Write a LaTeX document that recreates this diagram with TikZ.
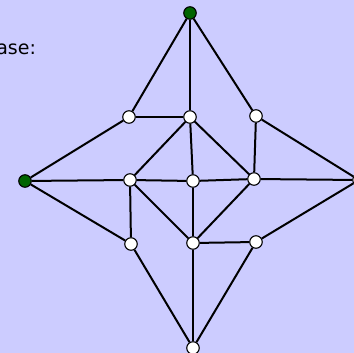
\documentclass[tikz,border=0pt]{standalone}
\usepackage{fontspec}
\setsansfont{DejaVu Sans}
\usetikzlibrary{positioning}

\definecolor{slidebg}{HTML}{CCCCFF}
\definecolor{darkgreen}{HTML}{006400}

\begin{document}
\begin{tikzpicture}[
  x=1pt,y=-1pt,
  vertex/.style={draw,circle,fill=white,line width=1.1pt,minimum size=12.5pt,inner sep=0pt},
  root/.style={vertex,fill=darkgreen},
  edge/.style={line width=2pt}
]
  \useasboundingbox (0,0) rectangle (354,353);
  \clip (0,0) rectangle (354,353);
  \fill[slidebg] (0,0) rectangle (354,353);

  \node[anchor=base east,font=\sffamily\fontsize{19}{21}\selectfont] (lbl) at (39.5,55) {ase:};

  % outer corners
  \node[root] (t) at (190,13) {};
  \node[root] (l) at (25,181) {};
  \node[vertex] (r) at (359,180) {};
  \node[vertex] (b) at (193,348) {};

  % inner grid
  \node[vertex] (ul) at (129,117) {};
  \node[vertex] (um) at (190,117) {};
  \node[vertex] (ur) at (256,116) {};
  \node[vertex] (ml) at (130,180) {};
  \node[vertex] (mm) at (193,181) {};
  \node[vertex] (mr) at (254,179) {};
  \node[vertex] (ll) at (131,244) {};
  \node[vertex] (lm) at (193,243) {};
  \node[vertex] (lr) at (256,242) {};

  \draw[edge] (t) -- (ul);
  \draw[edge] (t) -- (um);
  \draw[edge] (t) -- (ur);
  \draw[edge] (l) -- (ul);
  \draw[edge] (l) -- (ml);
  \draw[edge] (l) -- (ll);
  \draw[edge] (r) -- (ur);
  \draw[edge] (r) -- (mr);
  \draw[edge] (r) -- (lr);
  \draw[edge] (b) -- (ll);
  \draw[edge] (b) -- (lm);
  \draw[edge] (b) -- (lr);
  \draw[edge] (ul) -- (um);
  \draw[edge] (um) -- (ml);
  \draw[edge] (um) -- (mm);
  \draw[edge] (um) -- (mr);
  \draw[edge] (ur) -- (mr);
  \draw[edge] (ml) -- (mm);
  \draw[edge] (mm) -- (mr);
  \draw[edge] (ml) -- (ll);
  \draw[edge] (ml) -- (lm);
  \draw[edge] (mm) -- (lm);
  \draw[edge] (mr) -- (lm);
  \draw[edge] (lm) -- (lr);
\end{tikzpicture}
\end{document}
